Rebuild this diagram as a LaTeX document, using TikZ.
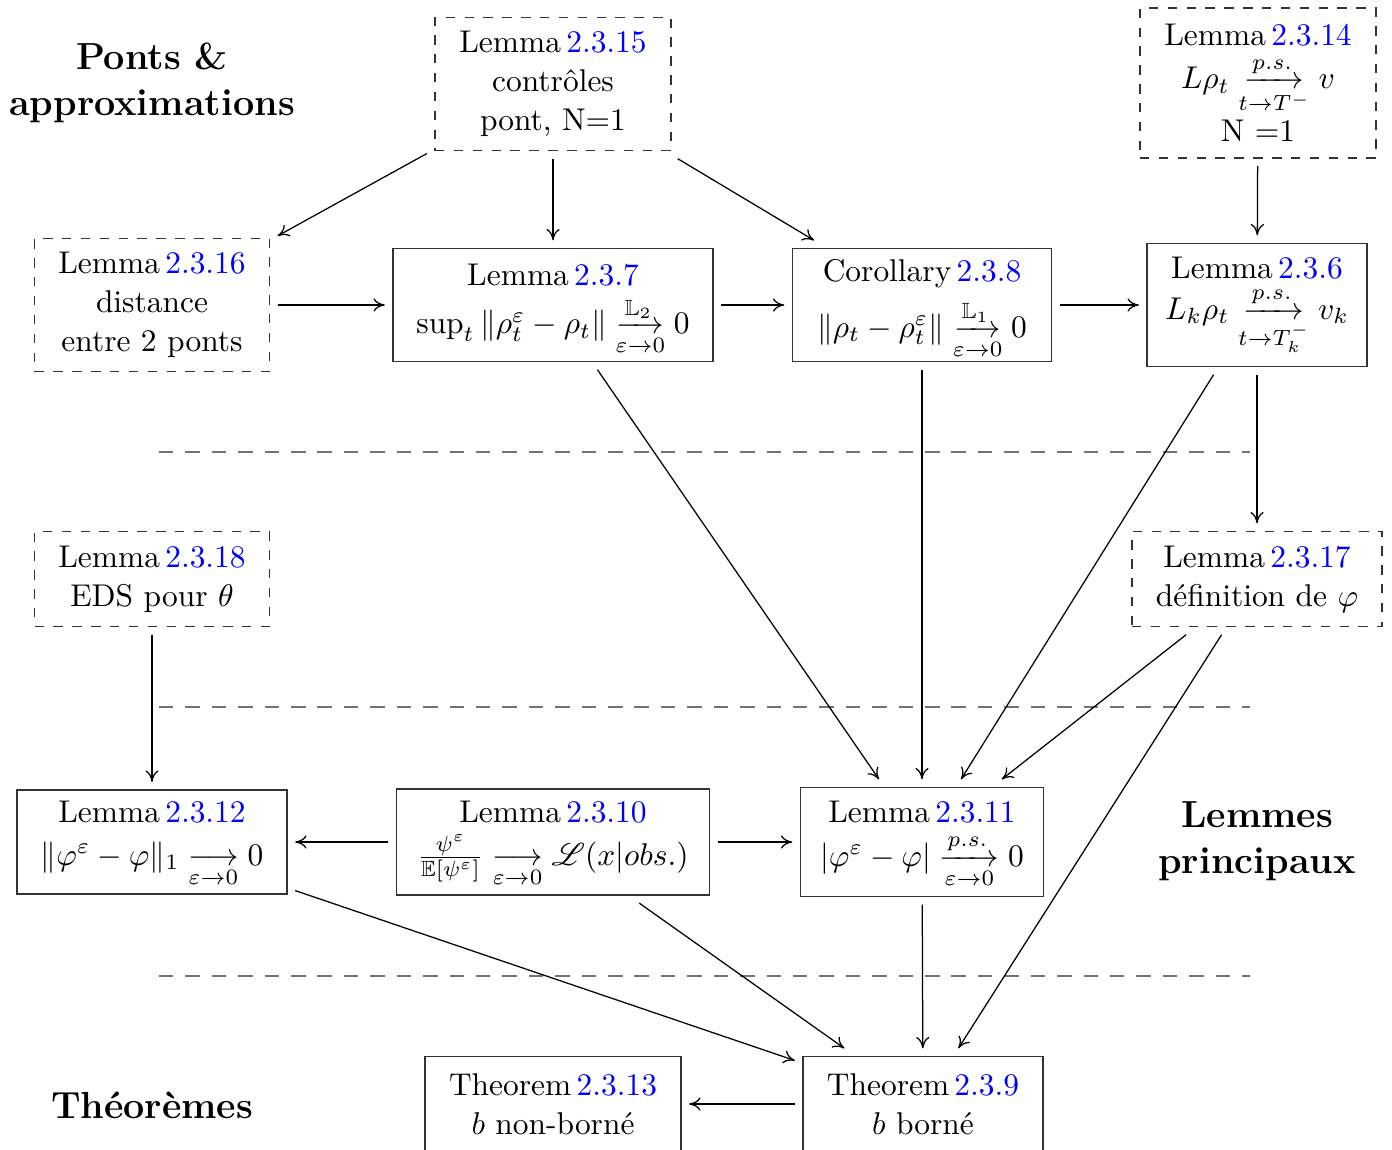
\documentclass[tikz,border=0pt]{standalone}
\usepackage{fontspec}
\usepackage{amsmath,amssymb,mathrsfs}
\usetikzlibrary{arrows.meta}
\newcommand{\rf}[1]{\textcolor{blue}{#1}}
\newcommand{\cvg}[2]{\underset{#2}{\xrightarrow{#1}}}
% extra gap below the first line, keeping the first line in place
\newcommand{\lgap}[1]{\rule{0pt}{\dimexpr 6.9pt+#1\relax}\\[#1]}
\begin{document}
\begin{tikzpicture}[x=0.318pt,y=-0.318pt,
  bx/.style 2 args={draw=black!80, line width=0.4pt, align=center, inner sep=0pt, outer sep=2.6pt,
     minimum width=#1*0.318pt, minimum height=#2*0.318pt,
     execute at begin node={\baselineskip=12.4pt}},
  dbx/.style 2 args={bx={#1}{#2}, dashed},
  arr/.style={-{To[length=3.6pt,width=4.2pt]}, line width=0.4pt},
  sepline/.style={draw=black!55, line width=0.8pt, dash pattern=on 4.6pt off 3.8pt},
  head/.style={font=\large\bfseries, align=center}]
\useasboundingbox (0,0) rectangle (1392,1149);

% headings
\node[head] (h1) at (152,83) {Ponts \&\\[0.6pt] approximations};
\node[head] (h2) at (1257,841) {Lemmes\\[0.6pt] principaux};
\node[head] (h3) at (152,1105) {Théorèmes};

% top row
\node[dbx={236}{133}] (l2315) at (553,84) {Lemma\,\rf{2.3.15}\\ contrôles\\ pont, N=1};
\node[dbx={236}{150}] (l2314) at (1258,83) {Lemma\,\rf{2.3.14}\\[1.3pt] $L\rho_t \cvg{p.s.}{t\to T^-} v$\\[1pt] N =1};

% second row
\node[dbx={235}{133}] (l2316) at (152,305) {Lemma\,\rf{2.3.16}\\ distance\\ entre 2 ponts};
\node[bx={320}{113}] (l237) at (553,305) {Lemma\,\rf{2.3.7}\lgap{3pt} $\sup_t\|\rho_t^\varepsilon-\rho_t\| \cvg{\mathbb{L}_2}{\varepsilon\to0} 0$};
\node[bx={259}{113}] (c238) at (922,305) {Corollary\,\rf{2.3.8}\lgap{3pt} $\|\rho_t-\rho_t^\varepsilon\| \cvg{\mathbb{L}_1}{\varepsilon\to0} 0$};
\node[bx={220}{123}] (l236) at (1257,305) {Lemma\,\rf{2.3.6}\lgap{0.7pt} $L_k\rho_t \cvg{p.s.}{t\to T_k^-} v_k$};

% third row
\node[dbx={235}{95}] (l2318) at (152,579) {Lemma\,\rf{2.3.18}\\ EDS pour $\theta$};
\node[dbx={250}{95}] (l2317) at (1257,579) {Lemma\,\rf{2.3.17}\\ définition de $\varphi$};

% fourth row
\node[bx={270}{104}] (l2312) at (152,842) {Lemma\,\rf{2.3.12}\lgap{1.3pt} $\|\varphi^\varepsilon-\varphi\|_1 \underset{\varepsilon\to0}{\longrightarrow} 0$};
\node[bx={313}{106}] (l2310) at (553,842) {Lemma\,\rf{2.3.10}\lgap{1.3pt} $\frac{\psi^\varepsilon}{\mathbb{E}[\psi^\varepsilon]} \underset{\varepsilon\to0}{\longrightarrow} \mathscr{L}(x|obs.)$};
\node[bx={243}{109}] (l2311) at (922,842) {Lemma\,\rf{2.3.11}\lgap{1.6pt} $|\varphi^\varepsilon-\varphi| \cvg{p.s.}{\varepsilon\to0} 0$};

% bottom row
\node[bx={256}{95}] (t2313) at (553,1104) {Theorem\,\rf{2.3.13}\\ $b$ non-borné};
\node[bx={240}{95}] (t239) at (923,1104) {Theorem\,\rf{2.3.9}\\ $b$ borné};

% separators
\draw[sepline] (159,452) -- (1250,452);
\draw[sepline] (159,707) -- (1250,707);
\draw[sepline] (159,976) -- (1250,976);

% arrows
\draw[arr] (l2315) -- (l2316);
\draw[arr] (l2315) -- (l237);
\draw[arr] (l2315) -- (c238);
\draw[arr] (l2314) -- (l236);
\draw[arr] (l2316) -- (l237);
\draw[arr] (l237) -- (c238);
\draw[arr] (c238) -- (l236);
\draw[arr] (l236) -- (l2317);
\draw[arr] (l237) -- (l2311);
\draw[arr] (c238) -- (l2311);
\draw[arr] (l236) -- (l2311);
\draw[arr] (l2317) -- (l2311);
\draw[arr] (l2317) -- (t239);
\draw[arr] (l2318) -- (l2312);
\draw[arr] (l2310) -- (l2312);
\draw[arr] (l2310) -- (l2311);
\draw[arr] (l2312) -- (t239);
\draw[arr] (l2310) -- (t239);
\draw[arr] (l2311) -- (t239);
\draw[arr] (t239) -- (t2313);
\end{tikzpicture}
\end{document}
